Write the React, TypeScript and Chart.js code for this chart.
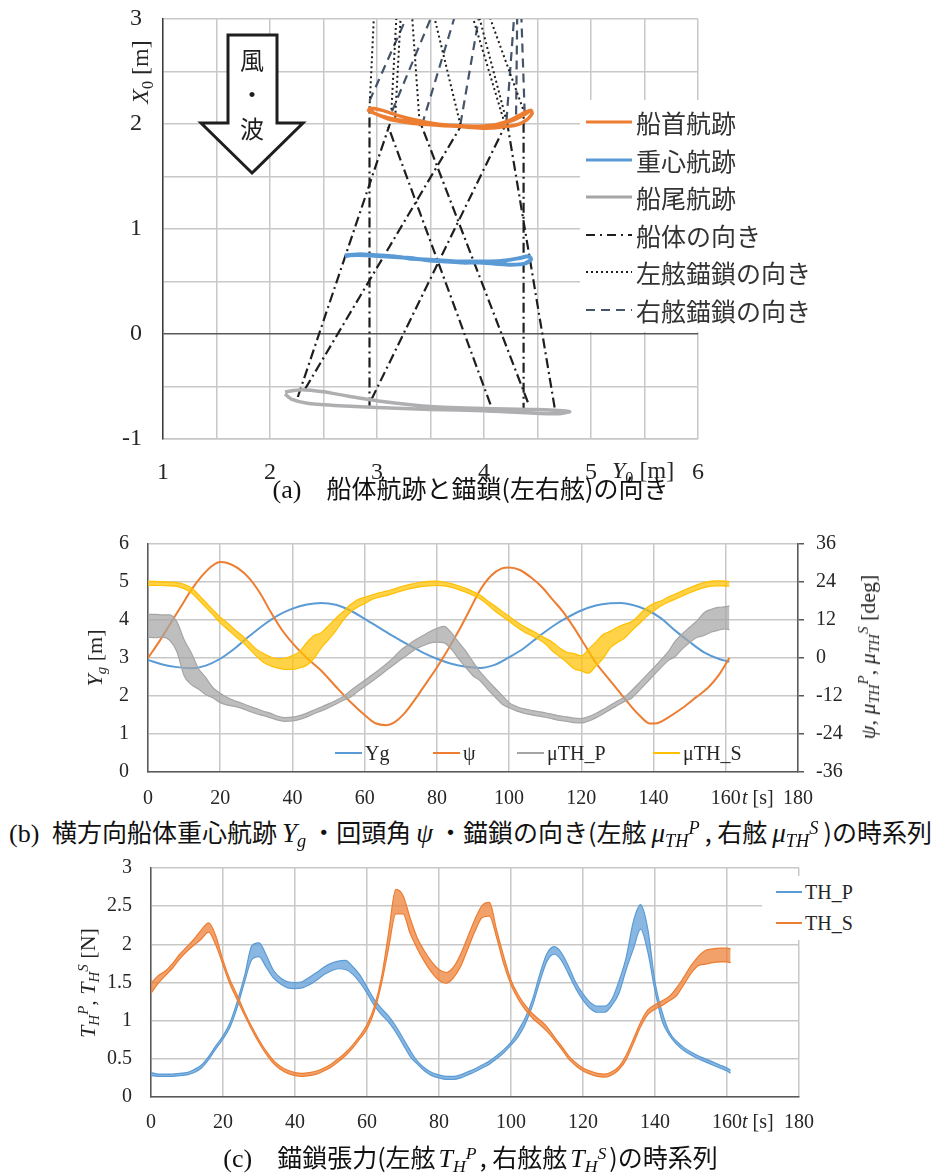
import React, { useEffect, useRef } from "react";
import { Chart, registerables } from "chart.js";

Chart.register(...registerables);

const SERIF = '"Liberation Serif", "Times New Roman", serif';
const CJK = '"Noto Sans CJK JP", "Noto Sans", sans-serif';

const ORANGE = "#ED7D31";
const BLUE = "#5B9BD5";
const GRAY = "#A5A5A5";
const YELLOW = "#FFC000";
const SLATE = "#44546A";
const INK = "#1E1E1E";
const GRID = "#C8C8C8";
const AXIS = "#595959";
const TEXT = "#262626";
const CLEAR = "rgba(0,0,0,0)";

// ---- (a) hull tracks, in (Y0, X0) metres ----
const bowTrackY0 = [2.92, 2.98, 3.1, 3.25, 3.4, 3.55, 3.7, 3.85, 4.0, 4.15, 4.28, 4.38, 4.44, 4.45, 4.4, 4.3, 4.15, 4.0, 3.85, 3.7, 3.55, 3.4, 3.25, 3.1, 2.98, 2.92, 2.94, 3.05, 3.2, 3.35, 3.5, 3.65, 3.8, 3.95, 4.1, 4.25, 4.36, 4.43];
const bowTrackX0 = [2.14, 2.1, 2.06, 2.03, 2.01, 1.99, 1.98, 1.98, 1.98, 2.0, 2.04, 2.09, 2.13, 2.1, 2.04, 1.99, 1.97, 1.96, 1.97, 1.98, 1.99, 2.0, 2.02, 2.05, 2.1, 2.13, 2.15, 2.13, 2.08, 2.04, 2.01, 1.99, 1.98, 1.97, 1.99, 2.04, 2.1, 2.13];

const centerTrackY0 = [2.7, 2.85, 3.0, 3.15, 3.3, 3.45, 3.6, 3.75, 3.9, 4.05, 4.2, 4.32, 4.42, 4.44, 4.38, 4.25, 4.1, 3.95, 3.8, 3.65, 3.5, 3.35, 3.2, 3.05, 2.9, 2.75, 2.7];
const centerTrackX0 = [0.75, 0.76, 0.75, 0.74, 0.72, 0.71, 0.7, 0.69, 0.69, 0.69, 0.7, 0.72, 0.74, 0.71, 0.67, 0.66, 0.67, 0.68, 0.68, 0.69, 0.7, 0.72, 0.73, 0.74, 0.75, 0.75, 0.74];

const sternTrackY0 = [2.14, 2.3, 2.5, 2.72, 3.03, 3.5, 4.0, 4.5, 4.8, 4.7, 4.4, 4.0, 3.5, 3.0, 2.6, 2.35, 2.2, 2.14];
const sternTrackX0 = [-0.55, -0.53, -0.55, -0.59, -0.64, -0.69, -0.71, -0.72, -0.74, -0.76, -0.75, -0.73, -0.72, -0.7, -0.68, -0.66, -0.62, -0.57];

// hull heading lines: stern point -> bow point
const headingSternY0 = [2.26, 2.33, 2.93, 2.95, 4.06, 4.41, 4.37, 4.66];
const headingSternX0 = [-0.6, -0.52, -0.7, -0.62, -0.67, -0.65, -0.75, -0.7];
const headingBowY0 = [3.12, 3.79, 2.93, 4.2, 3.1, 3.41, 4.37, 4.21];
const headingBowX0 = [2.0, 1.99, 2.13, 1.99, 1.99, 2.0, 2.1, 2.05];

// port chain direction: bow point -> top edge
const portStartY0 = [2.93, 3.13, 3.17, 3.4, 3.78, 4.18, 4.2, 4.38];
const portStartX0 = [2.15, 2.04, 2.06, 1.98, 1.99, 2.05, 2.07, 2.1];
const portEndY0 = [2.97, 3.18, 3.22, 3.33, 3.54, 3.9, 3.96, 4.06];
const portEndX0 = [3, 3, 3, 3, 3, 3, 3, 3];

// starboard chain direction: bow point -> top edge
const stbdStartY0 = [2.93, 3.14, 3.42, 3.78, 4.21, 4.3, 4.38];
const stbdStartX0 = [2.22, 2.12, 1.99, 2.0, 2.03, 2.09, 2.11];
const stbdEndY0 = [3.27, 3.5, 3.72, 3.95, 4.28, 4.31, 4.35];
const stbdEndX0 = [3, 3, 3, 3, 3, 3, 3];

// ---- (b) time series ----
const ygTime = [0, 4, 8, 12, 16, 20, 24, 28, 32, 36, 40, 44, 48, 52, 56, 60, 64, 68, 72, 76, 80, 84, 88, 92, 96, 100, 104, 108, 112, 116, 120, 124, 128, 131, 134, 138, 142, 146, 150, 154, 158, 161];
const ygValue = [2.95, 2.83, 2.76, 2.73, 2.8, 2.98, 3.25, 3.57, 3.87, 4.12, 4.3, 4.41, 4.45, 4.4, 4.25, 4.03, 3.8, 3.57, 3.35, 3.15, 2.98, 2.85, 2.77, 2.74, 2.82, 3.02, 3.25, 3.55, 3.83, 4.06, 4.25, 4.38, 4.44, 4.45, 4.4, 4.27, 4.05, 3.72, 3.42, 3.15, 2.98, 2.9];

const psiTime = [0, 3, 6, 9, 12, 15, 18, 20, 22, 25, 28, 31, 34, 37, 40, 44, 48, 52, 56, 60, 63, 66, 68, 71, 74, 77, 80, 83, 86, 89, 92, 95, 98, 100, 103, 106, 109, 112, 115, 118, 121, 124, 127, 130, 133, 136, 139, 141, 144, 148, 152, 155, 158, 161];
const psiValue = [0, 5, 10.5, 16, 21.5, 26, 29.3, 30.3, 30, 28.3, 25.2, 20.5, 14.5, 9, 4.7, 0, -4, -9, -13.8, -18, -20.6, -21.2, -20.5, -17.5, -13, -8, -3, 2.5, 8.5, 15, 21.5, 26, 28.3, 28.6, 27.8, 25.5, 22.5, 18.5, 14.5, 9.5, 4, -1.5, -5.8, -10, -14.2, -18, -20.7, -20.6, -18.8, -15.8, -12.2, -9.5, -5.5, 0];

// noisy records: upper and lower edge of the oscillation band
const bandTime = [0, 2, 4, 6, 8, 10, 12, 14, 16, 18, 20, 22, 24, 26, 28, 30, 32, 34, 36, 38, 40, 42, 44, 46, 48, 50, 52, 54, 56, 58, 60, 62, 64, 66, 68, 70, 72, 74, 76, 78, 80, 82, 84, 86, 88, 90, 92, 94, 96, 98, 100, 102, 104, 106, 108, 110, 112, 114, 116, 118, 120, 122, 124, 126, 128, 130, 132, 134, 136, 138, 140, 142, 144, 146, 148, 150, 152, 154, 156, 158, 160, 161];

const muThPUpper = [13.8, 13.8, 13.6, 13.6, 11.4, 5.8, 1.6, -3.4, -6.2, -9.4,
  -11.1, -12.5, -13.5, -14.3, -15.2, -16.0, -16.8, -17.5, -18.4, -18.8,
  -18.7, -18.2, -17.4, -16.4, -15.5, -14.5, -13.4, -12.2, -10.4, -8.7,
  -7.0, -5.4, -3.7, -1.9, 0.2, 2.5, 4.1, 5.7, 7.0, 8.3,
  9.4, 10.0, 8.0, 5.0, 2.2, -1.2, -4.4, -7.0, -9.4, -11.7,
  -14.1, -15.3, -16.0, -16.5, -16.9, -17.3, -17.8, -18.3, -18.6, -19.0,
  -19.1, -18.5, -17.5, -16.3, -14.9, -13.6, -12.3, -10.2, -7.9, -5.5,
  -3.1, -0.7, 1.9, 5.3, 7.7, 9.7, 11.7, 14.3, 15.4, 16.0,
  16.2, 16.5];
const muThPLower = [6.6, 6.4, 6.6, 5.6, 2.0, -5.6, -8.4, -9.8, -11.6, -12.6,
  -14.1, -14.9, -15.3, -15.9, -16.8, -17.6, -18.2, -18.9, -19.6, -20.0,
  -19.9, -19.4, -18.6, -17.6, -16.7, -15.7, -14.6, -13.4, -12.4, -10.7,
  -9.0, -7.4, -5.7, -3.9, -2.2, -0.5, 1.1, 2.7, 3.8, 4.7,
  5.0, 4.8, 2.8, -0.2, -3.0, -5.6, -7.2, -9.8, -12.2, -14.5,
  -15.7, -16.7, -17.4, -17.9, -18.3, -18.7, -19.2, -19.7, -20.0, -20.4,
  -20.5, -19.9, -18.9, -17.7, -16.3, -15.0, -13.7, -12.6, -10.3, -7.9,
  -5.5, -3.1, -0.9, 0.5, 2.9, 4.9, 6.5, 7.1, 8.2, 8.8,
  9.2, 8.9];

const muThSUpper = [24.2, 24.2, 24.1, 24.0, 23.8, 23.3, 22.2, 20.0, 17.6, 15.2,
  12.9, 11.1, 9.0, 7.1, 5.0, 2.8, 1.4, 0.3, -0.2, 0.0,
  0.8, 2.1, 4.9, 7.1, 8.0, 10.2, 12.6, 14.6, 16.8, 18.4,
  19.2, 19.9, 20.6, 21.1, 21.8, 22.5, 23.1, 23.6, 24.0, 24.2,
  24.3, 24.0, 23.5, 22.8, 22.0, 21.0, 19.8, 18.1, 16.5, 14.8,
  13.2, 11.5, 10.0, 8.8, 7.6, 6.3, 5.0, 3.2, 1.8, 1.4,
  0.7, 2.8, 5.0, 7.4, 8.4, 9.7, 10.7, 11.5, 13.6, 15.8,
  17.2, 18.0, 19.2, 20.2, 21.2, 22.2, 23.1, 23.8, 24.3, 24.4,
  24.3, 24.1];
const muThSLower = [23.0, 22.9, 22.9, 22.8, 22.6, 21.9, 20.6, 18.4, 16.0, 13.6,
  11.1, 9.1, 7.0, 5.1, 3.0, 0.6, -1.4, -2.5, -3.2, -3.6,
  -3.6, -3.1, -2.3, -0.1, 3.2, 5.8, 8.6, 11.8, 14.4, 16.0,
  17.2, 18.5, 19.2, 19.7, 20.4, 21.1, 21.7, 22.2, 22.6, 22.8,
  22.9, 22.8, 22.3, 21.6, 20.8, 19.8, 18.6, 16.9, 14.9, 13.2,
  11.6, 9.9, 8.4, 7.2, 6.0, 4.5, 2.2, 0.4, -1.4, -3.4,
  -4.1, -4.8, -2.6, -0.2, 3.2, 4.9, 6.3, 8.7, 10.8, 13.0,
  14.8, 16.4, 17.6, 18.6, 19.6, 20.6, 21.5, 22.2, 22.7, 22.8,
  22.7, 22.7];

// ---- (c) chain tensions [N] ----
const thPUpper = [0.32, 0.30, 0.30, 0.30, 0.31, 0.32, 0.36, 0.42, 0.53, 0.67,
  0.80, 0.98, 1.26, 1.59, 1.98, 2.02, 1.86, 1.66, 1.56, 1.51,
  1.50, 1.51, 1.57, 1.63, 1.70, 1.75, 1.78, 1.79, 1.71, 1.60,
  1.44, 1.28, 1.16, 1.06, 0.93, 0.77, 0.61, 0.47, 0.38, 0.32,
  0.29, 0.27, 0.27, 0.29, 0.33, 0.37, 0.42, 0.47, 0.54, 0.62,
  0.72, 0.87, 1.04, 1.28, 1.61, 1.88, 1.97, 1.89, 1.71, 1.50,
  1.35, 1.24, 1.19, 1.19, 1.28, 1.52, 1.83, 2.30, 2.52, 2.20,
  1.51, 1.11, 0.85, 0.73, 0.65, 0.59, 0.54, 0.50, 0.46, 0.42,
  0.38, 0.35];
const thPLower = [0.28, 0.27, 0.27, 0.27, 0.28, 0.29, 0.32, 0.38, 0.49, 0.63,
  0.76, 0.92, 1.18, 1.51, 1.80, 1.84, 1.70, 1.56, 1.48, 1.43,
  1.42, 1.43, 1.47, 1.53, 1.60, 1.65, 1.68, 1.67, 1.61, 1.50,
  1.36, 1.20, 1.08, 0.98, 0.85, 0.69, 0.53, 0.43, 0.34, 0.28,
  0.25, 0.23, 0.23, 0.25, 0.29, 0.33, 0.38, 0.43, 0.50, 0.58,
  0.68, 0.79, 0.96, 1.20, 1.51, 1.78, 1.87, 1.79, 1.61, 1.42,
  1.27, 1.16, 1.11, 1.11, 1.20, 1.36, 1.67, 1.94, 2.20, 1.90,
  1.39, 0.99, 0.81, 0.69, 0.61, 0.55, 0.50, 0.46, 0.42, 0.38,
  0.34, 0.31];

const thSUpper = [1.49, 1.59, 1.65, 1.75, 1.87, 1.97, 2.07, 2.19, 2.28, 2.11,
  1.79, 1.53, 1.33, 1.11, 0.92, 0.75, 0.60, 0.48, 0.40, 0.35,
  0.32, 0.31, 0.32, 0.34, 0.38, 0.43, 0.50, 0.58, 0.68, 0.80,
  0.95, 1.18, 1.56, 2.15, 2.72, 2.64, 2.34, 2.08, 1.91, 1.77,
  1.67, 1.63, 1.70, 1.87, 2.10, 2.33, 2.51, 2.55, 2.19, 1.84,
  1.53, 1.34, 1.20, 1.09, 1.01, 0.92, 0.79, 0.67, 0.54, 0.45,
  0.38, 0.34, 0.31, 0.30, 0.33, 0.40, 0.55, 0.76, 0.98, 1.14,
  1.21, 1.26, 1.32, 1.43, 1.57, 1.72, 1.84, 1.92, 1.94, 1.95,
  1.95, 1.94];
const thSLower = [1.36, 1.49, 1.59, 1.69, 1.81, 1.91, 1.99, 2.07, 2.16, 1.99,
  1.73, 1.47, 1.27, 1.07, 0.88, 0.71, 0.56, 0.44, 0.36, 0.31,
  0.28, 0.27, 0.28, 0.30, 0.34, 0.39, 0.46, 0.54, 0.64, 0.76,
  0.89, 1.12, 1.48, 1.95, 2.40, 2.40, 2.14, 1.94, 1.77, 1.63,
  1.53, 1.49, 1.56, 1.71, 1.94, 2.17, 2.35, 2.37, 2.09, 1.74,
  1.47, 1.28, 1.14, 1.03, 0.95, 0.86, 0.75, 0.63, 0.50, 0.41,
  0.34, 0.30, 0.27, 0.26, 0.29, 0.36, 0.49, 0.70, 0.92, 1.08,
  1.15, 1.20, 1.26, 1.33, 1.47, 1.62, 1.72, 1.74, 1.76, 1.77,
  1.77, 1.76];

const pairs = (xs: number[], ys: number[]) => xs.map((x, i) => ({ x, y: ys[i] }));

const tickFont = (size: number) => ({ family: SERIF, size });

function withAlpha(hex: string, a: number) {
  const n = parseInt(hex.slice(1), 16);
  return `rgba(${(n >> 16) & 255},${(n >> 8) & 255},${n & 255},${a})`;
}

function trackSet(label: string, ys: number[], xs: number[], color: string, width: number) {
  return {
    label,
    data: pairs(ys, xs),
    showLine: true,
    borderColor: color,
    backgroundColor: color,
    borderWidth: width,
    pointRadius: 0,
    tension: 0.2,
  };
}

function segmentSets(label: string, y0: number[], x0: number[], y1: number[], x1: number[], color: string, dash: number[], width: number) {
  return y0.map((_, i) => ({
    label,
    data: [{ x: y0[i], y: x0[i] }, { x: y1[i], y: x1[i] }],
    showLine: true,
    borderColor: color,
    backgroundColor: color,
    borderDash: dash,
    borderWidth: width,
    pointRadius: 0,
  }));
}

// a noisy record drawn as the shaded band between its upper and lower edge
function bandSets(label: string, upper: number[], lower: number[], color: string, order: number, axis?: string) {
  const common: any = {
    borderColor: color,
    backgroundColor: withAlpha(color, 0.72),
    borderWidth: 1.2,
    pointRadius: 0,
    cubicInterpolationMode: "monotone",
    order,
  };
  if (axis) common.yAxisID = axis;
  return [
    { ...common, label, data: pairs(bandTime, upper), fill: false },
    { ...common, label, data: pairs(bandTime, lower), fill: "-1" },
  ];
}

const DASH_DOT = [10, 4, 2, 4];
const DOTTED = [2, 3];
const DASHED = [9, 6];

function Sub({ children }: { children: React.ReactNode }) {
  return <span style={{ fontSize: "0.68em", position: "relative", top: "0.28em" }}>{children}</span>;
}
function Sup({ children }: { children: React.ReactNode }) {
  return <span style={{ fontSize: "0.68em", position: "relative", top: "-0.45em" }}>{children}</span>;
}

function VTitle({ x, y, size, children }: { x: number; y: number; size: number; children: React.ReactNode }) {
  return (
    <div
      style={{
        position: "absolute",
        left: x,
        top: y,
        transform: "translate(-50%, -50%) rotate(-90deg)",
        whiteSpace: "nowrap",
        fontFamily: SERIF,
        fontSize: size,
        color: TEXT,
        lineHeight: 1,
      }}
    >
      {children}
    </div>
  );
}

function Caption({ y, size, children }: { y: number; size: number; children: React.ReactNode }) {
  return (
    <div
      style={{
        position: "absolute",
        left: 0,
        top: y - 17,
        width: 941,
        height: 34,
        lineHeight: "34px",
        textAlign: "center",
        whiteSpace: "nowrap",
        fontFamily: CJK,
        fontSize: size,
        color: "#111",
      }}
    >
      {children}
    </div>
  );
}

function MathPart({ children, size, gap }: { children: React.ReactNode; size: number; gap: number }) {
  return <span style={{ fontFamily: SERIF, fontSize: size, margin: `0 ${gap}px` }}>{children}</span>;
}

function LegendSwatch({ color, dash, width }: { color: string; dash?: string; width: number }) {
  return (
    <svg width={46} height={10} style={{ display: "block" }}>
      <line x1={0} y1={5} x2={46} y2={5} stroke={color} strokeWidth={width} strokeDasharray={dash} />
    </svg>
  );
}

const legendARows = [
  { text: "船首航跡", color: ORANGE, dash: undefined, width: 3 },
  { text: "重心航跡", color: BLUE, dash: undefined, width: 3 },
  { text: "船尾航跡", color: GRAY, dash: undefined, width: 3 },
  { text: "船体の向き", color: INK, dash: "9 5 2 5", width: 2.2 },
  { text: "左舷錨鎖の向き", color: INK, dash: "2 3", width: 2 },
  { text: "右舷錨鎖の向き", color: SLATE, dash: "9 6", width: 2.2 },
];

export default function App() {
  const refA = useRef<HTMLCanvasElement>(null);
  const refB = useRef<HTMLCanvasElement>(null);
  const refC = useRef<HTMLCanvasElement>(null);

  useEffect(() => {
    const charts: Chart[] = [];
    const intOnly = (v: any) => (Number.isInteger(Number(v)) ? String(v) : "");
    const plain = (v: any) => String(v);
    // label gap on the left axes is made with an invisible tick mark
    const leftGrid = (gap: number, color: any) => ({ color, lineWidth: 1.5, drawTicks: true, tickLength: gap, tickColor: CLEAR });

    // (a) tracks in the horizontal plane
    charts.push(
      new Chart(refA.current as HTMLCanvasElement, {
        type: "scatter",
        data: {
          datasets: [
            trackSet("船首航跡", bowTrackY0, bowTrackX0, ORANGE, 3.5),
            trackSet("重心航跡", centerTrackY0, centerTrackX0, BLUE, 4),
            trackSet("船尾航跡", sternTrackY0, sternTrackX0, "#AFAFB2", 3.5),
            ...segmentSets("船体の向き", headingSternY0, headingSternX0, headingBowY0, headingBowX0, INK, DASH_DOT, 2.2),
            ...segmentSets("左舷錨鎖の向き", portStartY0, portStartX0, portEndY0, portEndX0, INK, DOTTED, 2),
            ...segmentSets("右舷錨鎖の向き", stbdStartY0, stbdStartX0, stbdEndY0, stbdEndX0, SLATE, DASHED, 2.2),
          ] as any,
        },
        options: {
          animation: false,
          responsive: false,
          events: [],
          layout: { padding: { top: 19, right: 243, left: 0, bottom: 0 } },
          plugins: { legend: { display: false }, tooltip: { enabled: false } },
          scales: {
            x: {
              type: "linear",
              min: 1,
              max: 6,
              afterFit: (s: any) => { s.height = 51; },
              ticks: { stepSize: 0.5, autoSkip: false, maxRotation: 0, padding: 19, color: TEXT, font: tickFont(24), callback: intOnly },
              grid: { color: GRID, lineWidth: 1.5, drawTicks: false },
              border: { color: GRID, width: 1.5 },
            },
            y: {
              type: "linear",
              min: -1,
              max: 3,
              afterFit: (s: any) => { s.width = 163; },
              ticks: { stepSize: 0.5, autoSkip: false, padding: 0, color: TEXT, font: tickFont(24), callback: intOnly },
              grid: leftGrid(21, (ctx: any) => (ctx.tick && ctx.tick.value === 0 ? AXIS : GRID)),
              border: { color: "#3C3C3C", width: 1.5 },
            },
          },
        } as any,
      })
    );

    // (b) lateral position, yaw and chain directions
    charts.push(
      new Chart(refB.current as HTMLCanvasElement, {
        type: "line",
        data: {
          datasets: [
            { label: "Yg", data: pairs(ygTime, ygValue), yAxisID: "y", borderColor: BLUE, backgroundColor: BLUE, borderWidth: 2, pointRadius: 0, cubicInterpolationMode: "monotone", order: 4 },
            { label: "ψ", data: pairs(psiTime, psiValue), yAxisID: "y1", borderColor: ORANGE, backgroundColor: ORANGE, borderWidth: 2, pointRadius: 0, cubicInterpolationMode: "monotone", order: 3 },
            ...bandSets("μTH_P", muThPUpper, muThPLower, GRAY, 2, "y1"),
            ...bandSets("μTH_S", muThSUpper, muThSLower, YELLOW, 1, "y1"),
          ] as any,
        },
        options: {
          animation: false,
          responsive: false,
          events: [],
          layout: { padding: { top: 24, right: 0, left: 0, bottom: 0 } },
          plugins: { legend: { display: false }, tooltip: { enabled: false } },
          scales: {
            x: {
              type: "linear",
              min: 0,
              max: 180,
              afterFit: (s: any) => { s.height = 38; },
              ticks: { stepSize: 20, autoSkip: false, maxRotation: 0, padding: 15, color: TEXT, font: tickFont(20) },
              grid: { color: GRID, lineWidth: 1.5, drawTicks: false },
              border: { color: AXIS, width: 1.5 },
            },
            y: {
              position: "left",
              min: 0,
              max: 6,
              afterFit: (s: any) => { s.width = 148; },
              ticks: { stepSize: 1, padding: 0, color: TEXT, font: tickFont(20), callback: plain },
              grid: leftGrid(19, GRID),
              border: { color: AXIS, width: 1.5 },
            },
            y1: {
              position: "right",
              min: -36,
              max: 36,
              afterFit: (s: any) => { s.width = 143; },
              ticks: { stepSize: 12, padding: 12, color: TEXT, font: tickFont(20), callback: plain },
              grid: { drawOnChartArea: false, drawTicks: true, tickLength: 6, color: AXIS, lineWidth: 1.5 },
              border: { color: AXIS, width: 1.5 },
            },
          },
        } as any,
      })
    );

    // (c) chain tension
    charts.push(
      new Chart(refC.current as HTMLCanvasElement, {
        type: "line",
        data: {
          datasets: [
            ...bandSets("TH_P", thPUpper, thPLower, BLUE, 2),
            ...bandSets("TH_S", thSUpper, thSLower, ORANGE, 1),
          ] as any,
        },
        options: {
          animation: false,
          responsive: false,
          events: [],
          layout: { padding: { top: 18, right: 142, left: 0, bottom: 0 } },
          plugins: { legend: { display: false }, tooltip: { enabled: false } },
          scales: {
            x: {
              type: "linear",
              min: 0,
              max: 180,
              afterFit: (s: any) => { s.height = 43; },
              ticks: { stepSize: 20, autoSkip: false, maxRotation: 0, padding: 14, color: TEXT, font: tickFont(20) },
              grid: { color: GRID, lineWidth: 1.5, drawTicks: false },
              border: { color: AXIS, width: 1.5 },
            },
            y: {
              min: 0,
              max: 3,
              afterFit: (s: any) => { s.width = 151; },
              ticks: { stepSize: 0.5, padding: 0, color: TEXT, font: tickFont(20), callback: plain },
              grid: leftGrid(19, GRID),
              border: { color: AXIS, width: 1.5 },
            },
          },
        } as any,
      })
    );

    return () => charts.forEach((c) => c.destroy());
  }, []);

  const serifText = (style: React.CSSProperties, children: React.ReactNode) => (
    <div style={{ position: "absolute", fontFamily: SERIF, color: TEXT, whiteSpace: "nowrap", lineHeight: 1, ...style }}>{children}</div>
  );

  return (
    <div style={{ position: "fixed", left: 0, top: 0, width: 941, height: 1173, background: "#fff", overflow: "hidden" }}>
      <canvas ref={refA} width={941} height={490} style={{ position: "absolute", left: 0, top: 0 }} />
      <canvas ref={refB} width={941} height={290} style={{ position: "absolute", left: 0, top: 520 }} />
      <canvas ref={refC} width={941} height={290} style={{ position: "absolute", left: 0, top: 850 }} />

      {/* (a) wind / wave arrow */}
      <svg width={941} height={490} style={{ position: "absolute", left: 0, top: 0 }}>
        <polygon points="228,35 277,35 277,123 303,123 252,173 201,123 228,123" fill="#fff" stroke={INK} strokeWidth={3} strokeLinejoin="miter" />
        <text x={252} y={58} textAnchor="middle" dominantBaseline="central" fontFamily={CJK} fontSize={24} fill={INK}>風</text>
        <text x={252} y={92} textAnchor="middle" dominantBaseline="central" fontFamily={CJK} fontSize={24} fill={INK}>・</text>
        <text x={252} y={127} textAnchor="middle" dominantBaseline="central" fontFamily={CJK} fontSize={24} fill={INK}>波</text>
      </svg>

      {/* (a) legend */}
      <div style={{ position: "absolute", left: 580, top: 100, width: 265, height: 232, background: "#fff" }}>
        {legendARows.map((r, i) => (
          <div key={r.text} style={{ position: "absolute", left: 6, top: 3 + i * 37.6, height: 38, display: "flex", alignItems: "center" }}>
            <LegendSwatch color={r.color} dash={r.dash} width={r.width} />
            <span style={{ marginLeft: 4, fontFamily: CJK, fontSize: 25, color: "#333", whiteSpace: "nowrap" }}>{r.text}</span>
          </div>
        ))}
      </div>

      {/* (a) axis titles */}
      <VTitle x={140} y={72} size={24}>
        <i>X</i><Sub>0</Sub> [m]
      </VTitle>
      {serifText({ left: 612, top: 458, fontSize: 24 }, <><i>Y</i><Sub>0</Sub> [m]</>)}

      <Caption y={487} size={25}>
        <span style={{ fontFamily: SERIF, fontSize: 26 }}>(a)</span>
        <span>{"\u2003"}船体航跡と錨鎖(左右舷)の向き</span>
      </Caption>

      {/* (b) axis titles */}
      <VTitle x={95} y={658} size={22}>
        <i>Y</i><Sub><i>g</i></Sub> [m]
      </VTitle>
      <VTitle x={868} y={657} size={22}>
        <i>ψ</i>, <i>μ</i><Sub><i>TH</i></Sub><Sup><i>P</i></Sup>, <i>μ</i><Sub><i>TH</i></Sub><Sup><i>S</i></Sup> [deg]
      </VTitle>
      {serifText({ left: 742, top: 787, fontSize: 20 }, <><i>t</i> [s]</>)}

      {/* (b) legend */}
      {[
        { x: 335, text: "Yg", color: BLUE },
        { x: 433, text: "ψ", color: ORANGE },
        { x: 517, text: "μTH_P", color: GRAY },
        { x: 653, text: "μTH_S", color: YELLOW },
      ].map((e) => (
        <div key={e.text} style={{ position: "absolute", left: e.x, top: 741, height: 24, display: "flex", alignItems: "center" }}>
          <div style={{ width: 27, height: 0, borderTop: `2px solid ${e.color}` }} />
          <span style={{ marginLeft: 3, fontFamily: SERIF, fontSize: 20, color: TEXT }}>{e.text}</span>
        </div>
      ))}

      <Caption y={831} size={25}>
        <span style={{ fontFamily: SERIF, fontSize: 26 }}>(b)</span>
        <span>{"\u2002"}横方向船体重心航跡</span>
        <MathPart size={27} gap={5}><i>Y</i><Sub><i>g</i></Sub></MathPart>
        <span>・回頭角</span>
        <MathPart size={27} gap={5}><i>ψ</i></MathPart>
        <span>・錨鎖の向き(左舷</span>
        <MathPart size={27} gap={5}><i>μ</i><Sub><i>TH</i></Sub><Sup><i>P</i></Sup></MathPart>
        <span>, 右舷</span>
        <MathPart size={27} gap={5}><i>μ</i><Sub><i>TH</i></Sub><Sup><i>S</i></Sup></MathPart>
        <span>)の時系列</span>
      </Caption>

      {/* (c) axis titles */}
      <VTitle x={88} y={983} size={22}>
        <i>T</i><Sub><i>H</i></Sub><Sup><i>P</i></Sup>, <i>T</i><Sub><i>H</i></Sub><Sup><i>S</i></Sup> [N]
      </VTitle>
      {serifText({ left: 742, top: 1111, fontSize: 20 }, <><i>t</i> [s]</>)}

      {/* (c) legend */}
      <div style={{ position: "absolute", left: 762, top: 876, width: 100, height: 64, background: "#fff" }}>
        {[
          { text: "TH_P", color: BLUE, y: 16 },
          { text: "TH_S", color: ORANGE, y: 47 },
        ].map((e) => (
          <div key={e.text} style={{ position: "absolute", left: 14, top: e.y - 12, height: 24, display: "flex", alignItems: "center" }}>
            <div style={{ width: 26, height: 0, borderTop: `2px solid ${e.color}` }} />
            <span style={{ marginLeft: 3, fontFamily: SERIF, fontSize: 20, color: TEXT }}>{e.text}</span>
          </div>
        ))}
      </div>

      <Caption y={1156} size={25}>
        <span style={{ fontFamily: SERIF, fontSize: 26 }}>(c)</span>
        <span>{"\u2003"}錨鎖張力(左舷</span>
        <MathPart size={26} gap={3}><i>T</i><Sub><i>H</i></Sub><Sup><i>P</i></Sup></MathPart>
        <span>, 右舷舷</span>
        <MathPart size={26} gap={3}><i>T</i><Sub><i>H</i></Sub><Sup><i>S</i></Sup></MathPart>
        <span>)の時系列</span>
      </Caption>
    </div>
  );
}
